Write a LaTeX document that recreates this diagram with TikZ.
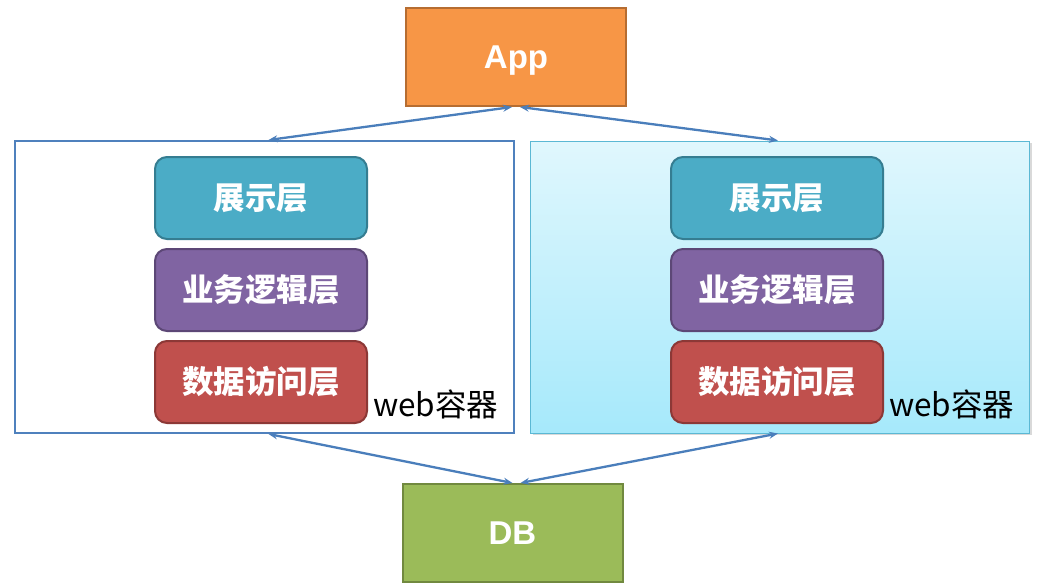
\documentclass[tikz,border=0pt]{standalone}
\usepackage{fontspec}
\setmainfont{Liberation Sans}
\newfontfamily\cjk{Noto Sans CJK SC}
\usetikzlibrary{arrows.meta,shadows}
\definecolor{apporange}{HTML}{F79646}
\definecolor{appborder}{HTML}{B66D31}
\definecolor{dbgreen}{HTML}{9BBB59}
\definecolor{dbborder}{HTML}{71893F}
\definecolor{presfill}{HTML}{4BACC6}
\definecolor{presborder}{HTML}{357D91}
\definecolor{bizfill}{HTML}{8064A2}
\definecolor{bizborder}{HTML}{5C4776}
\definecolor{dalfill}{HTML}{C0504D}
\definecolor{dalborder}{HTML}{8C3836}
\definecolor{linkblue}{HTML}{4A7EBB}
\definecolor{boxblue}{HTML}{4F81BD}
\definecolor{cyanborder}{HTML}{5BB8D4}
\definecolor{cyantop}{HTML}{E0F7FD}
\definecolor{cyanbot}{HTML}{A6E9FB}
\begin{document}
\begin{tikzpicture}[x=1pt,y=-1pt,
  endbox/.style={draw, line width=2pt, minimum width=220pt, minimum height=98pt, inner sep=0pt,
    text depth=0pt, text=white, font=\fontsize{33}{36}\selectfont\bfseries},
  layer/.style={draw, line width=2pt, rounded corners=12pt, minimum width=212pt, minimum height=82pt,
    inner sep=0pt, text=white, font=\cjk\fontsize{31.5}{34}\selectfont\bfseries},
  container/.style={minimum width=499pt, minimum height=292pt, inner sep=0pt},
  lbl/.style={font=\cjk\fontsize{31.5}{34}\selectfont, text=black, inner sep=0pt, anchor=base west},
  link/.style={draw=linkblue, line width=2.3pt, {Stealth[length=9pt,width=7pt]}-{Stealth[length=9pt,width=7pt]}}
]
\useasboundingbox (0,0) rectangle (1050,586);
% containers
\node[container, draw=boxblue, line width=2pt, fill=white] (left) at (264.5,287) {};
\node[container, draw=cyanborder, line width=1pt, top color=cyantop, bottom color=cyanbot,
  drop shadow={shadow xshift=2pt, shadow yshift=-2pt, opacity=0.3}] (right) at (780,287) {};
% end boxes
\node[endbox, fill=apporange, draw=appborder] (app) at (516,57) {App};
\node[endbox, fill=dbgreen, draw=dbborder] (db) at (512.5,533) {DB};
% left layers
\node[layer, fill=presfill, draw=presborder] (lp) at (261,198) {展示层};
\node[layer, fill=bizfill, draw=bizborder] (lb) at (261,290) {业务逻辑层};
\node[layer, fill=dalfill, draw=dalborder] (ld) at (261,382) {数据访问层};
\node[lbl] (lw) at (373,416) {web容器};
% right layers
\node[layer, fill=presfill, draw=presborder] (rp) at (777,198) {展示层};
\node[layer, fill=bizfill, draw=bizborder] (rb) at (777,290) {业务逻辑层};
\node[layer, fill=dalfill, draw=dalborder] (rd) at (777,382) {数据访问层};
\node[lbl] (rw) at (889,416) {web容器};
% links
\draw[link] ([xshift=4pt]left.north) -- ([xshift=-4pt]app.south);
\draw[link] ([xshift=4pt]app.south) -- ([xshift=-2pt]right.north);
\draw[link] ([xshift=4pt]left.south) -- ([xshift=0pt]db.north);
\draw[link] ([xshift=-2pt]right.south) -- ([xshift=8pt]db.north);
\end{tikzpicture}
\end{document}
